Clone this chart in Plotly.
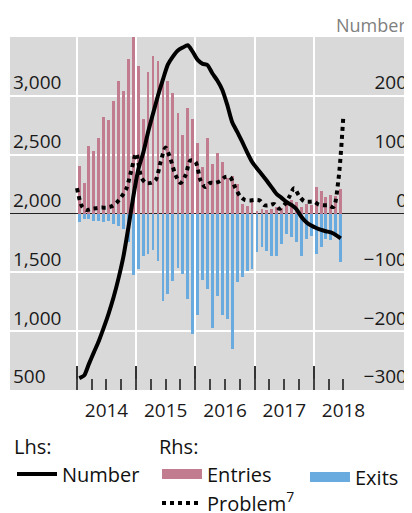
import plotly.graph_objects as go
import pandas as pd

# ---- data ----
month_mid = pd.date_range("2014-01-01", periods=54, freq="MS") + pd.Timedelta(days=14)
month_start = pd.date_range("2014-01-01", periods=55, freq="MS")

entries = [80, 52, 115, 107, 128, 164, 159, 191, 225, 209, 262, 305,
           251, 161, 241, 268, 259, 230, 225, 205, 170, 134, 180, 161,
           119, 79, 128, 84, 103, 87, 60, 64, 50, 17, 12, 22,
           4, 8, 6, 8, 11, 10, 17, 23, 20, 11, 17, 15,
           45, 38, 28, 32, 30, 42]

exits = [-14, -9, -10, -13, -13, -14, -12, -17, -21, -26, -49, -105,
         -94, -72, -69, -62, -80, -148, -136, -115, -92, -103, -145, -204,
         -172, -113, -128, -195, -141, -172, -180, -230, -117, -108, -98, -95,
         -65, -57, -63, -73, -73, -52, -34, -40, -48, -73, -43, -38,
         -69, -57, -43, -45, -40, -83]

number = [600, 625, 720, 820, 915, 1030, 1150, 1290, 1455, 1640, 1890, 2150,
          2380, 2525, 2690, 2850, 3000, 3140, 3265, 3333, 3385, 3410, 3430, 3375,
          3305, 3272, 3262, 3190, 3130, 3050, 2925, 2775, 2693, 2610, 2520, 2440,
          2382, 2330, 2280, 2222, 2167, 2133, 2098, 2073, 2036, 1973, 1926, 1898,
          1877, 1860, 1849, 1840, 1818, 1788]

problem = [43, 12, 6, 8, 9, 10, 10, 12, 18, 28, 42, 72,
           102, 62, 52, 52, 57, 88, 112, 92, 65, 52, 65, 90,
           88, 57, 45, 52, 52, 55, 62, 62, 45, 30, 23, 22,
           23, 22, 14, 14, 16, 8, 14, 28, 43, 30, 21, 20,
           20, 15, 14, 14, 11, 58, 165]

year_labels = ["2014", "2015", "2016", "2017", "2018"]
year_starts = ["2014-01-01", "2015-01-01", "2016-01-01", "2017-01-01", "2018-01-01"]
year_mids = ["2014-07-02", "2015-07-02", "2016-07-02", "2017-07-02", "2018-07-02"]
quarter_ticks = [str(d.date()) for d in pd.date_range("2014-01-01", "2018-07-01", freq="QS")]

lhs_ticks = [500, 1000, 1500, 2000, 2500, 3000]
rhs_ticks = [-300, -200, -100, 0, 100, 200]

# ---- style ----
FONT = "Open Sans"
PINK = "#c27c8f"
BLUE = "#69aadf"
BG = "#d9d9d9"
XRANGE = ["2012-11-14", "2019-08-16"]
BAR_W = 17 * 86400000

fig = go.Figure()

# bars on the right-hand axis (base subplot)
fig.add_bar(x=month_mid, y=entries, yaxis="y", marker=dict(color=PINK, line=dict(width=0)),
            width=BAR_W, showlegend=False, name="Entries")
fig.add_bar(x=month_mid, y=exits, yaxis="y", marker=dict(color=BLUE, line=dict(width=0)),
            width=BAR_W, showlegend=False, name="Exits")
fig.add_scatter(x=month_start, y=problem, yaxis="y", mode="lines",
                line=dict(color="black", width=4, dash="dot", shape="spline", smoothing=0.8),
                name="Problem<sup>7</sup>", legend="legend2", legendrank=2)
# number line on the left-hand axis (overlay subplot, drawn on top)
fig.add_scatter(x=month_mid, y=number, yaxis="y2", mode="lines",
                line=dict(color="black", width=4, shape="spline", smoothing=0.6),
                name="Number", legend="legend")

# legend proxies for the bar colours
fig.add_scatter(x=[None], y=[None], yaxis="y", mode="lines", line=dict(color=PINK, width=14),
                name="Entries", legend="legend2", legendrank=1)
fig.add_scatter(x=[None], y=[None], yaxis="y", mode="lines", line=dict(color=BLUE, width=14),
                name="Exits", legend="legend3")
# empty trace so the quarter-tick overlay axis is drawn
fig.add_scatter(x=[None], y=[None], xaxis="x2", yaxis="y", mode="lines",
                showlegend=False, hoverinfo="skip")

tickfont = dict(family=FONT, size=19, color="#1a1a1a")
legfont = dict(family=FONT, size=20, color="#111111")

# the page body has an 8px margin, so the figure is shrunk by 8px on each axis
fig.update_layout(
    width=404, height=505,
    margin=dict(l=2, r=2, t=29, b=123, autoexpand=False),
    paper_bgcolor="white", plot_bgcolor=BG,
    barmode="relative", bargap=0,
    font=dict(family=FONT, size=19, color="#1a1a1a"),
    xaxis=dict(type="date", range=XRANGE, tickmode="array", tickvals=year_mids,
               ticktext=year_labels, ticks="", showgrid=False, zeroline=False,
               showline=False, tickfont=tickfont, ticklabelstandoff=7,
               minor=dict(tickmode="array", tickvals=year_starts, ticks="inside", ticklen=24,
                          tickwidth=1.5, tickcolor="#333333", showgrid=True,
                          gridcolor="white", gridwidth=1.5)),
    xaxis2=dict(type="date", range=XRANGE, overlaying="x", anchor="y", side="bottom",
                tickmode="array", tickvals=quarter_ticks, ticks="inside", ticklen=11,
                tickwidth=1.5, tickcolor="#444444", showticklabels=False,
                showgrid=False, zeroline=False, showline=False),
    yaxis=dict(range=[-300, 300], side="right", tickmode="array", tickvals=rhs_ticks,
               ticklabelposition="inside top", ticks="", showgrid=True, gridcolor="white",
               gridwidth=1.5, zeroline=True, zerolinecolor="#222222", zerolinewidth=1.2,
               showline=False, tickfont=tickfont),
    yaxis2=dict(range=[500, 3500], side="left", overlaying="y", anchor="x", tickmode="array",
                tickvals=lhs_ticks, tickformat=",d", ticklabelposition="inside top", ticks="",
                showgrid=False, zeroline=False, showline=False, tickfont=tickfont),
    legend=dict(title=dict(text="Lhs:", font=legfont), font=legfont, x=0.005, y=-0.109,
                xanchor="left", yanchor="top", bgcolor="rgba(0,0,0,0)", itemwidth=40,
                tracegroupgap=0),
    legend2=dict(title=dict(text="Rhs:", font=legfont), font=legfont, x=0.3675, y=-0.109,
                 xanchor="left", yanchor="top", bgcolor="rgba(0,0,0,0)", itemwidth=40,
                 tracegroupgap=0),
    legend3=dict(font=legfont, x=0.7375, y=-0.191, xanchor="left", yanchor="top",
                 bgcolor="rgba(0,0,0,0)", itemwidth=40),
    annotations=[dict(text="Number", xref="paper", yref="paper", x=0.995, y=1.0,
                      xanchor="right", yanchor="bottom", showarrow=False, yshift=-2,
                      font=dict(family=FONT, size=18, color="#808080"))],
)

fig.write_html("out.html", config={"displayModeBar": False})
